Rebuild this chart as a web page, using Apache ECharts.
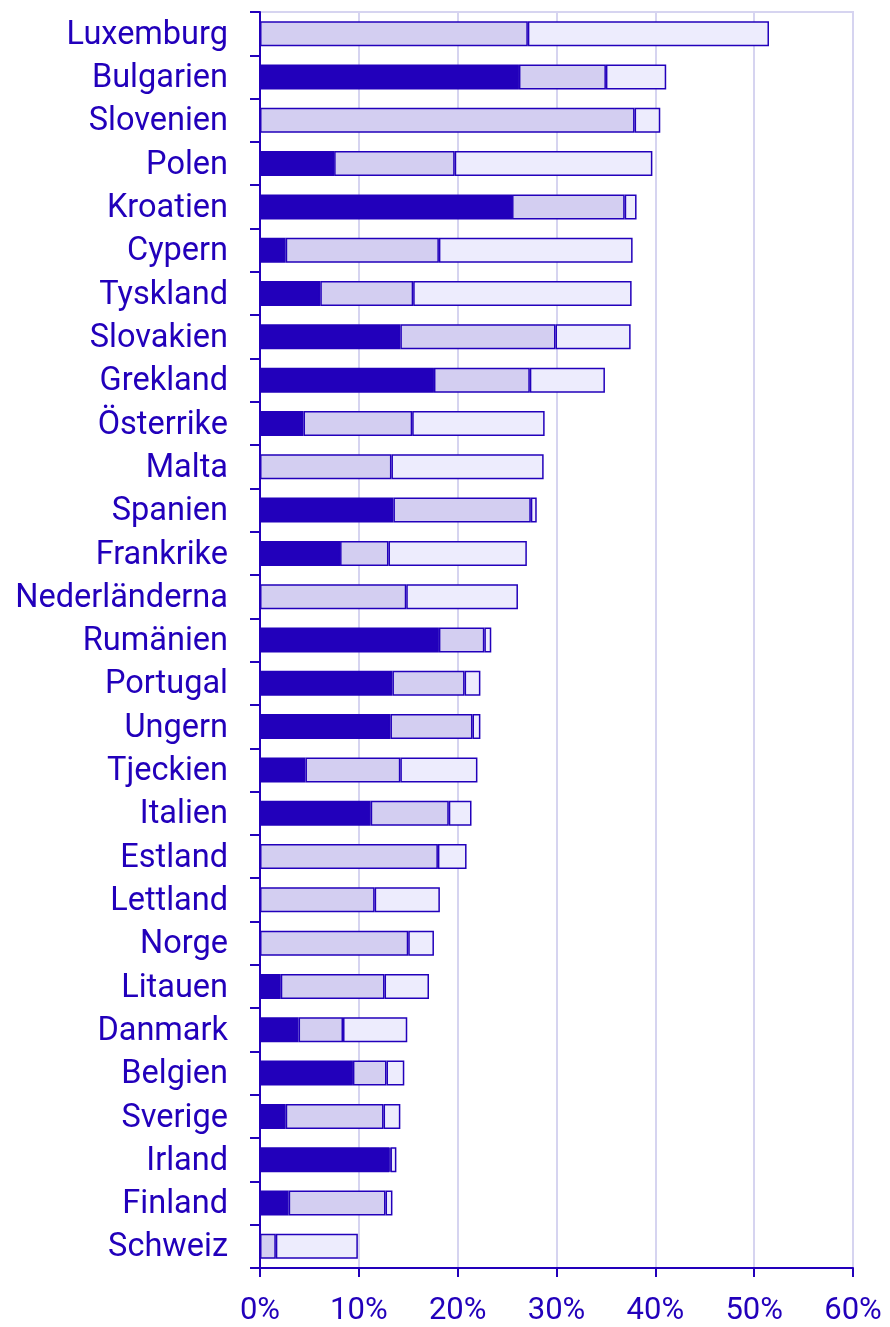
<!DOCTYPE html>
<html>
<head>
<meta charset="utf-8">
<script src="https://cdn.jsdelivr.net/npm/echarts@6/dist/echarts.min.js"></script>
<style>
  html, body { margin: 0; padding: 0; background: #fff; }
  #chart { width: 890px; height: 1327px; }
</style>
</head>
<body>
<div id="chart"></div>
<script>
// Countries, top to bottom
const countries = [
  'Luxemburg', 'Bulgarien', 'Slovenien', 'Polen', 'Kroatien', 'Cypern', 'Tyskland',
  'Slovakien', 'Grekland', 'Österrike', 'Malta', 'Spanien', 'Frankrike', 'Nederländerna',
  'Rumänien', 'Portugal', 'Ungern', 'Tjeckien', 'Italien', 'Estland', 'Lettland',
  'Norge', 'Litauen', 'Danmark', 'Belgien', 'Sverige', 'Irland', 'Finland', 'Schweiz'
];

// Stacked segment lengths in percent (first, middle, last part of each bar)
const partA = [
  0, 26.2, 0, 7.5, 25.5, 2.6, 6.1,
  14.2, 17.6, 4.4, 0, 13.5, 8.1, 0,
  18.1, 13.4, 13.2, 4.6, 11.2, 0, 0,
  0, 2.1, 3.9, 9.4, 2.6, 13.1, 2.9, 0
];
const partB = [
  27.1, 8.8, 37.9, 12.2, 11.4, 15.5, 9.4,
  15.7, 9.7, 11.0, 13.3, 13.9, 4.9, 14.8,
  4.6, 7.3, 8.3, 9.6, 7.9, 18.0, 11.6,
  15.0, 10.5, 4.5, 3.4, 9.9, 0.1, 9.8, 1.6
];
const partC = [
  24.4, 6.1, 2.6, 20.0, 1.2, 19.6, 22.1,
  7.6, 7.6, 13.4, 15.4, 0.6, 14.0, 11.3,
  0.7, 1.6, 0.8, 7.8, 2.3, 2.9, 6.6,
  2.6, 4.5, 6.5, 1.8, 1.7, 0.6, 0.7, 8.3
];

// Value axis ticks
const xMin = 0, xMax = 60, xStep = 10;

const ink = '#2200bb';
const gridLine = '#d6d4f0';
const fills = ['#2200bb', '#d3cef1', '#edecfd'];

function seg(name, data, color) {
  return {
    name: name,
    type: 'bar',
    stack: 'total',
    data: data,
    barWidth: 25,
    itemStyle: { color: color, borderColor: ink, borderWidth: 1.5 },
    emphasis: { disabled: true },
    animation: false
  };
}

const chart = echarts.init(document.getElementById('chart'), null, { renderer: 'canvas' });
chart.setOption({
  animation: false,
  textStyle: { fontFamily: 'Roboto' },
  grid: {
    left: 260, right: 37, top: 12, bottom: 58,
    show: true, borderColor: gridLine, borderWidth: 2, backgroundColor: 'transparent'
  },
  xAxis: {
    type: 'value',
    min: xMin, max: xMax, interval: xStep,
    axisLine: { show: true, lineStyle: { color: ink, width: 2 } },
    axisTick: { show: true, length: 9, lineStyle: { color: ink, width: 2 } },
    axisLabel: {
      color: ink, fontSize: 31, fontFamily: 'Roboto', margin: 28,
      formatter: v => v + '%'
    },
    splitLine: { show: true, lineStyle: { color: gridLine, width: 2 } }
  },
  yAxis: {
    type: 'category',
    data: countries,
    inverse: true,
    axisLine: { show: true, lineStyle: { color: ink, width: 2 } },
    axisTick: { show: true, length: 10, lineStyle: { color: ink, width: 2 } },
    axisLabel: {
      color: ink, fontSize: 32.5, fontFamily: 'Roboto', margin: 32,
      verticalAlign: 'top', lineHeight: 4
    },
    splitLine: { show: false }
  },
  series: [
    seg('A', partA, fills[0]),
    seg('B', partB, fills[1]),
    seg('C', partC, fills[2])
  ]
});
</script>
</body>
</html>
